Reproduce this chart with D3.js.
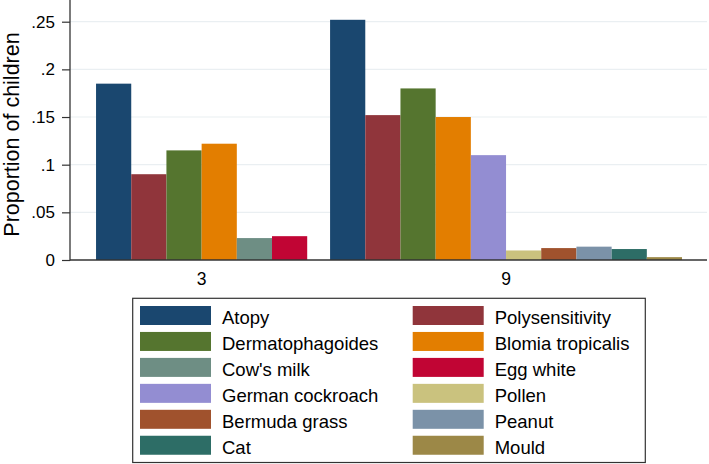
<!DOCTYPE html>
<html>
<head>
<meta charset="utf-8">
<script src="https://cdn.jsdelivr.net/npm/d3@7/dist/d3.min.js"></script>
<style>
  html, body { margin: 0; padding: 0; background: #fff; }
  svg { display: block; }
  text { font-family: "Liberation Sans", Arial, Helvetica, sans-serif; fill: #000; }
</style>
</head>
<body>
<svg id="chart" width="709" height="464"></svg>
<script>
// ---- data ----
const groups = ["3", "9"];
const series = ["Atopy", "Polysensitivity", "Dermatophagoides", "Blomia tropicalis",
  "Cow's milk", "Egg white", "German cockroach", "Pollen", "Bermuda grass", "Peanut", "Cat", "Mould"];
const colors = ["#1a476f", "#90353b", "#55752f", "#e37e00", "#6e8e84", "#c10534",
  "#938dd2", "#cac27e", "#a0522d", "#7b92a8", "#2d6d66", "#9c8847"];
const valuesAge3 = [0.185, 0.090, 0.115, 0.122, 0.023, 0.025, null, null, null, null, null, null];
const valuesAge9 = [0.252, 0.152, 0.180, 0.150, null, null, 0.110, 0.010, 0.0125, 0.014, 0.0115, 0.003];
const yTickValues = [0, 0.05, 0.10, 0.15, 0.20, 0.25];
const yTickLabels = ["0", ".05", ".1", ".15", ".2", ".25"];
const yTitle = "Proportion of children";

// ---- layout ----
const svg = d3.select("#chart");
const plot = { left: 70, right: 707, top: 0, bottom: 260 };
const gapLeft = 0.74, gapMid = 0.65, gapRight = 0.71;

const groupValues = [valuesAge3, valuesAge9];
const groupBars = groupValues.map(vals =>
  vals.map((v, i) => ({ series: i, value: v })).filter(d => d.value !== null));

// build bars in slot units
let cursor = gapLeft;
const bars = [];
const groupCenters = [];
groupBars.forEach((gb, gi) => {
  const start = cursor;
  gb.forEach(d => { bars.push({ ...d, group: gi, slot: cursor }); cursor += 1; });
  groupCenters.push((start + cursor) / 2);
  cursor += (gi < groupBars.length - 1) ? gapMid : gapRight;
});
const totalUnits = cursor;

const x = d3.scaleLinear().domain([0, totalUnits]).range([plot.left, plot.right]);
const y = d3.scaleLinear().domain([0, 0.25]).range([260, 21.7]);

// grid lines
svg.append("g").selectAll("line").data(yTickValues.filter(v => v > 0)).join("line")
  .attr("x1", plot.left).attr("x2", plot.right)
  .attr("y1", d => y(d)).attr("y2", d => y(d))
  .attr("stroke", "#eaeff2").attr("stroke-width", 1.2);

// bars
svg.append("g").selectAll("rect").data(bars).join("rect")
  .attr("x", d => x(d.slot))
  .attr("width", d => x(d.slot + 1) - x(d.slot))
  .attr("y", d => y(d.value))
  .attr("height", d => y(0) - y(d.value))
  .attr("fill", d => colors[d.series]);

// y axis
const yAxis = d3.axisLeft(y).tickValues(yTickValues)
  .tickFormat((d, i) => yTickLabels[i]).tickSize(8).tickPadding(7);
const gy = svg.append("g").attr("transform", `translate(${plot.left},0)`).call(yAxis);
gy.select(".domain").remove();
gy.selectAll(".tick line").attr("stroke", "#333").attr("stroke-width", 1.2);
gy.selectAll(".tick text").style("font-size", "17px").attr("fill", "#000")
  .style("font-family", "'Liberation Sans', Arial, sans-serif");
svg.append("line").attr("x1", plot.left).attr("x2", plot.left)
  .attr("y1", 0).attr("y2", y(0) + 0.6).attr("stroke", "#333").attr("stroke-width", 1.3);

// x axis
svg.append("line").attr("x1", plot.left).attr("x2", plot.right)
  .attr("y1", y(0)).attr("y2", y(0)).attr("stroke", "#333").attr("stroke-width", 1.4);
svg.append("g").selectAll("text").data(groups).join("text")
  .attr("x", (d, i) => x(groupCenters[i]))
  .attr("y", 284.5)
  .attr("text-anchor", "middle")
  .style("font-size", "17.5px")
  .text(d => d);

// y title
svg.append("text")
  .attr("transform", "translate(18.5,134.5) rotate(-90)")
  .attr("text-anchor", "middle")
  .style("font-size", "21.5px")
  .text(yTitle);

// legend
const legend = svg.append("g");
legend.append("rect").attr("x", 132.7).attr("y", 298.3).attr("width", 512.6).attr("height", 164.2)
  .attr("fill", "#fff").attr("stroke", "#333").attr("stroke-width", 1.2);
const colX = [140, 412.7];
const rowY0 = 306, rowPitch = 25.95;
const items = legend.selectAll("g.item").data(series).join("g").attr("class", "item")
  .attr("transform", (d, i) => `translate(${colX[i % 2]},${rowY0 + Math.floor(i / 2) * rowPitch})`);
items.append("rect").attr("width", 71).attr("height", 19).attr("fill", (d, i) => colors[i]);
items.append("text").attr("x", 82).attr("y", 18.2).style("font-size", "18.5px").text(d => d);
</script>
</body>
</html>
